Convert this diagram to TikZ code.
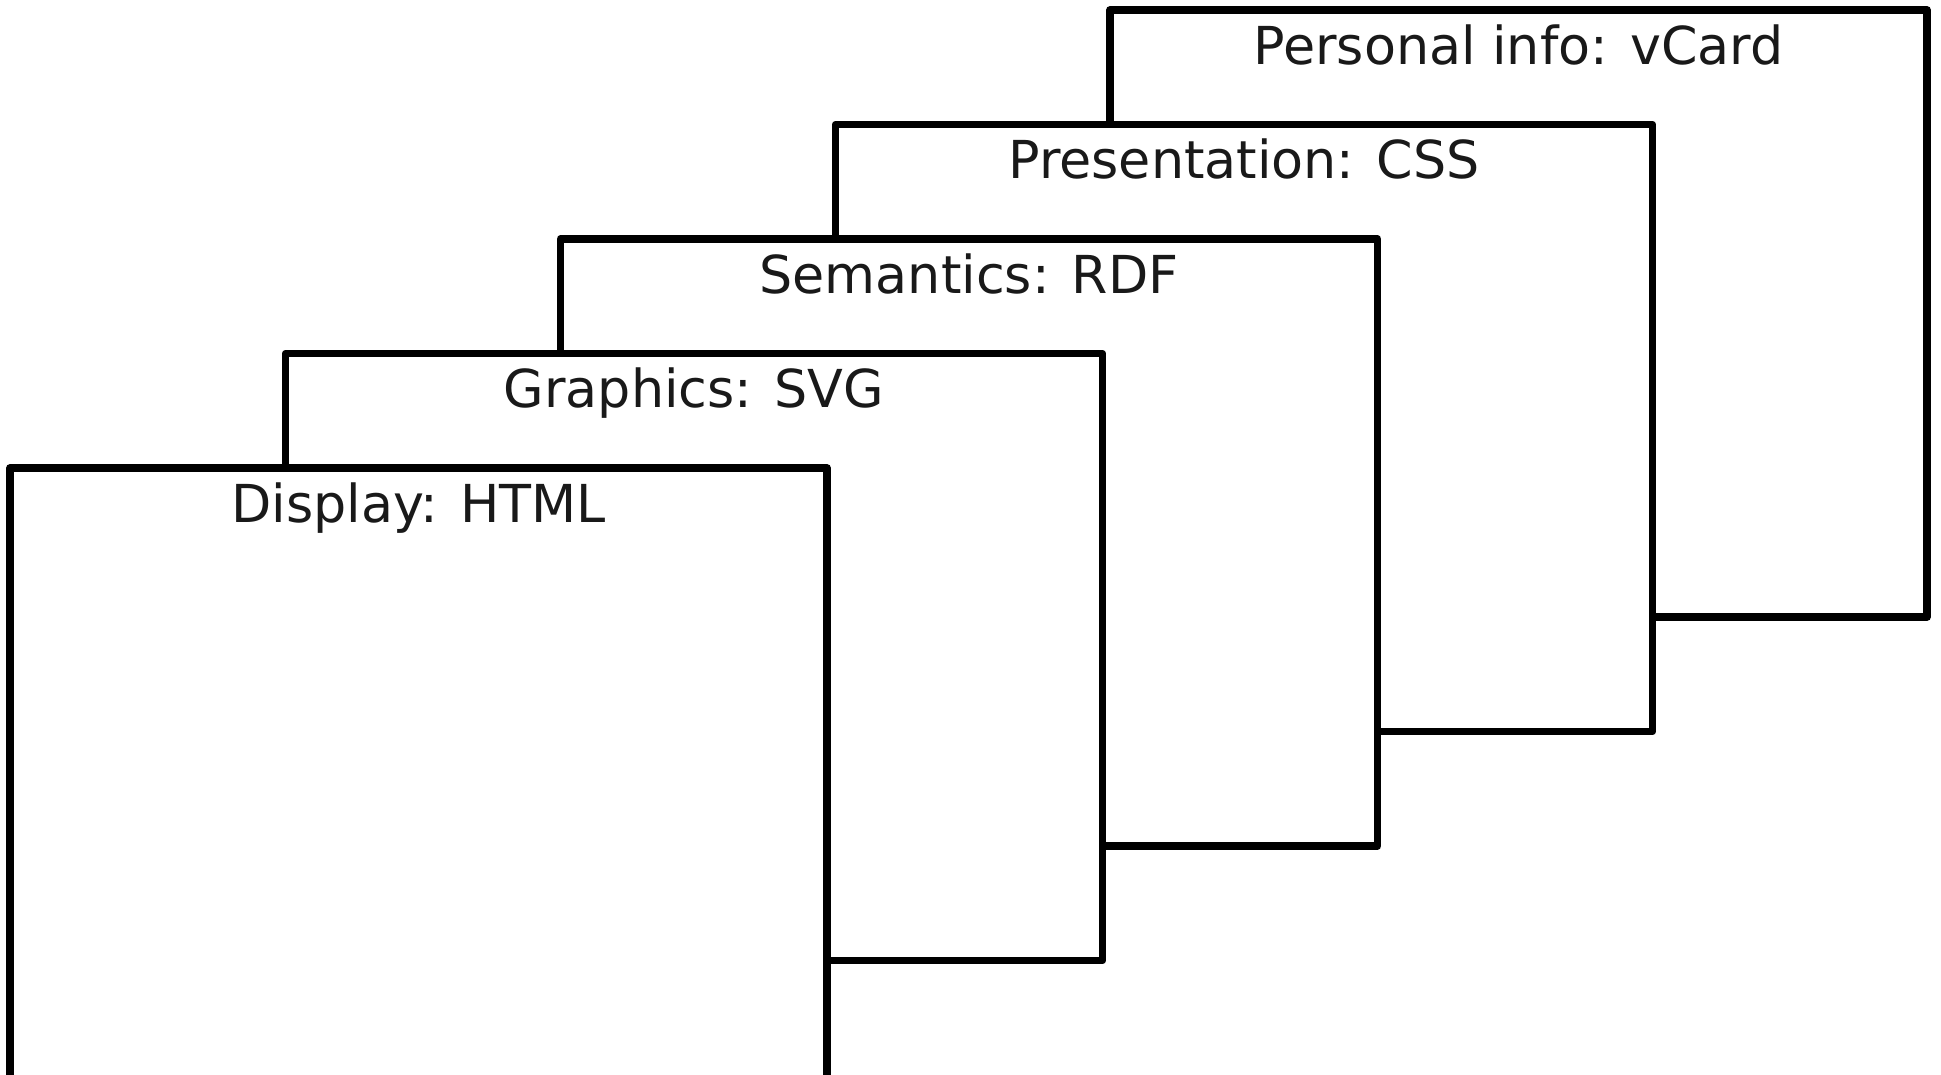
\documentclass[tikz,border=0pt]{standalone}
\usepackage{fontspec}
\setmainfont{DejaVu Sans}
\begin{document}
\begin{tikzpicture}[x=1pt,y=-1pt,
  layer/.style={draw=black, fill=white, line width=7.5pt, line join=round, minimum width=817pt, minimum height=607pt, anchor=north west, inner sep=0, outer sep=0},
  lbl/.style={anchor=base, font=\fontsize{52.3}{60}\selectfont, text=black!90, inner sep=0}]
\clip (0,0) rectangle (1941,1074);
\fill[white] (0,0) rectangle (1941,1074);
\node[layer] (vcard) at (1110,10) {};
\node[lbl] (vcardlbl) at ([yshift=-54pt]vcard.north) {Personal info: vCard};
\node[layer] (css) at (835.5,124.5) {};
\node[lbl] (csslbl) at ([yshift=-54pt]css.north) {Presentation: CSS};
\node[layer] (rdf) at (560.5,239) {};
\node[lbl] (rdflbl) at ([yshift=-54pt]rdf.north) {Semantics: RDF};
\node[layer] (svg) at (285.5,353.5) {};
\node[lbl] (svglbl) at ([yshift=-54pt]svg.north) {Graphics: SVG};
\node[layer, minimum height=700pt] (html) at (10,468) {};
\node[lbl] (htmllbl) at ([yshift=-54pt]html.north) {Display: HTML};
\end{tikzpicture}
\end{document}
